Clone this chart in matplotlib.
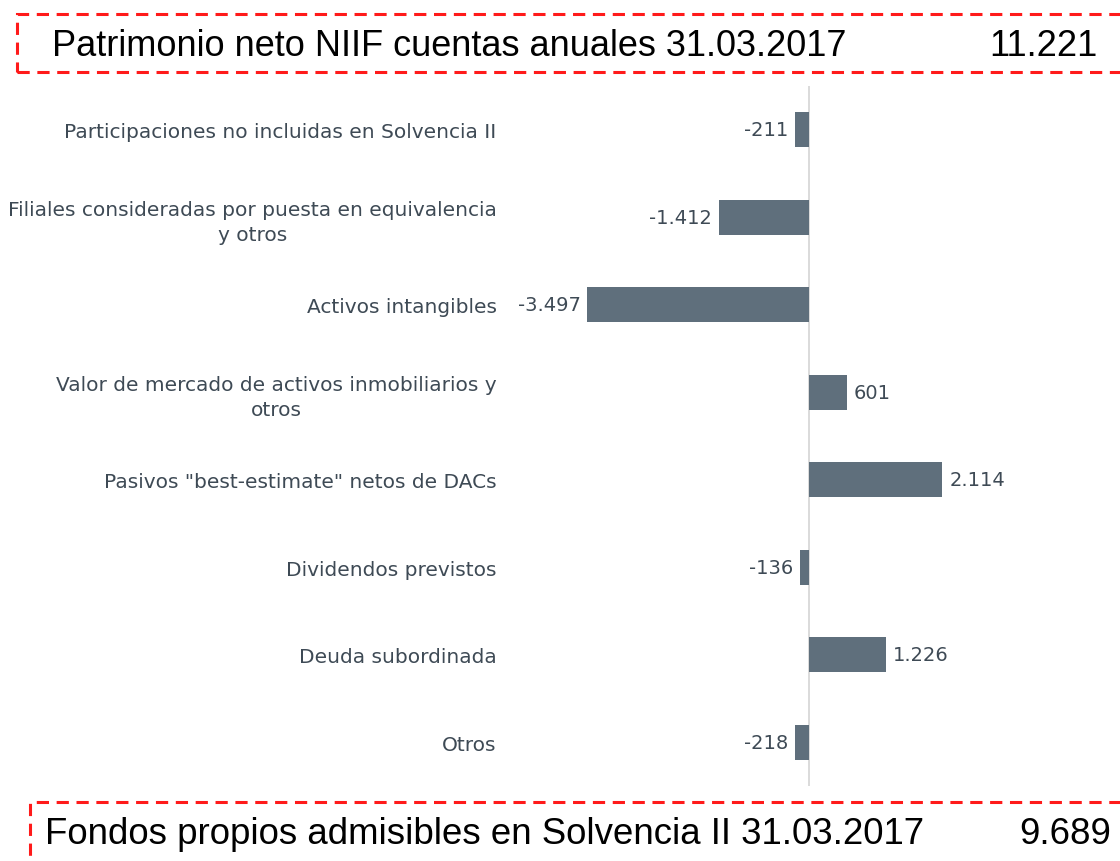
import matplotlib.pyplot as plt
from matplotlib.patches import Rectangle

categories = [
    "Participaciones no incluidas en Solvencia II",
    "Filiales consideradas por puesta en equivalencia\ny otros",
    "Activos intangibles",
    "Valor de mercado de activos inmobiliarios y\notros",
    "Pasivos \"best-estimate\" netos de DACs",
    "Dividendos previstos",
    "Deuda subordinada",
    "Otros",
]
values = [-211, -1412, -3497, 601, 2114, -136, 1226, -218]

top_label = "Patrimonio neto NIIF cuentas anuales 31.03.2017"
top_value = "11.221"
bottom_label = "Fondos propios admisibles en Solvencia II 31.03.2017"
bottom_value = "9.689"

bar_color = "#5f6f7c"
text_color = "#3e4a55"


def fmt(v):
    return f"{v:,}".replace(",", ".")


fig = plt.figure(figsize=(11.2, 8.62), dpi=100)
ax = fig.add_axes([0.4509, 0.087, 0.542, 0.812])

ypos = list(range(len(values)))
ax.barh(ypos, values, height=0.4, color=bar_color)
ax.set_xlim(-4800, 4800)
ax.set_ylim(len(values) - 0.5, -0.5)
ax.axvline(0, color="#d4d4d4", lw=1.2, zorder=0)

for y, v in zip(ypos, values):
    if v < 0:
        ax.annotate(fmt(v), (v, y), xytext=(-5, 0), textcoords="offset points",
                    ha="right", va="center", fontsize=14, color=text_color)
    else:
        ax.annotate(fmt(v), (v, y), xytext=(5, 0), textcoords="offset points",
                    ha="left", va="center", fontsize=14, color=text_color)

ax.set_yticks(ypos)
ax.set_yticklabels(categories, fontsize=14.5, color=text_color,
                   multialignment="center", linespacing=1.35)
ax.tick_params(axis="y", length=0, pad=6)
ax.set_xticks([])
for s in ax.spines.values():
    s.set_visible(False)

# dashed boxes
fig.patches.append(Rectangle((17 / 1120, 1 - 73 / 862), 1.2, 58 / 862, transform=fig.transFigure,
                             fill=False, ec="#ff1a1a", lw=2.2, ls=(0, (4, 2.5)), clip_on=False))
fig.patches.append(Rectangle((30 / 1120, -0.1), 1.2, 0.1 + 59 / 862, transform=fig.transFigure,
                             fill=False, ec="#ff1a1a", lw=2.2, ls=(0, (4, 2.5)), clip_on=False))

fig.text(52 / 1120, 1 - 56 / 862, top_label, fontsize=26, family="Liberation Sans",
         va="baseline", ha="left", color="black")
fig.text(1097 / 1120, 1 - 56 / 862, top_value, fontsize=26, family="Liberation Sans",
         va="baseline", ha="right", color="black")
fig.text(45 / 1120, 1 - 844 / 862, bottom_label, fontsize=26.4, family="Liberation Sans",
         va="baseline", ha="left", color="black")
fig.text(1111 / 1120, 1 - 844 / 862, bottom_value, fontsize=26.4, family="Liberation Sans",
         va="baseline", ha="right", color="black")

fig.savefig("out.png", dpi=100, facecolor="white")
